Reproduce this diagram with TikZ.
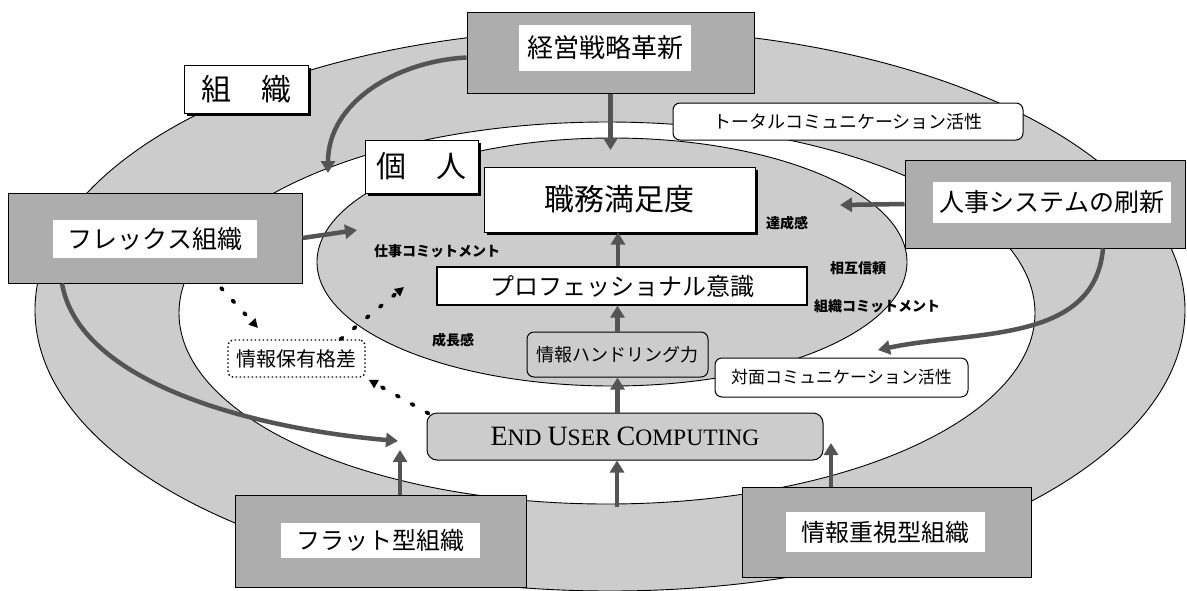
\documentclass[tikz,border=0pt]{standalone}
\usepackage{fontspec}
\newfontfamily\jp{Noto Sans CJK JP}
\newfontfamily\tms{Liberation Serif}
\usetikzlibrary{arrows.meta,shadows}
\newcommand\myfs[1]{\fontsize{#1}{#1}\selectfont}
\definecolor{ringgray}{gray}{0.80}
\definecolor{boxgray}{gray}{0.68}
\definecolor{arrgray}{gray}{0.33}
\tikzset{
  ring/.style={draw=black, line width=0.9pt},
  shadebox/.style={draw=black, line width=1pt, fill=boxgray, inner sep=0pt},
  whitelabel/.style={fill=white, inner sep=0pt},
  plainbox/.style={draw=black, line width=1pt, fill=white, inner sep=0pt},
  shadowbox/.style={plainbox, general shadow={fill=black, shadow xshift=3pt, shadow yshift=-3pt}},
  roundbox/.style={draw=black, line width=1pt, rounded corners=7pt, inner sep=0pt},
  smalllabel/.style={font=\jp\bfseries\myfs{14}, inner sep=0pt},
  bigarrow/.style={draw=arrgray, line width=4.5pt, -{Triangle[length=12pt,width=14pt]}},
  dotarrow/.style={draw=black, line width=3.8pt, dash pattern=on 2.5pt off 14.5pt, line cap=round, -{Triangle[length=9pt,width=9pt]}},
}
\begin{document}
\begin{tikzpicture}[x=1pt,y=-1pt]
\useasboundingbox (0,0) rectangle (1187,590);
% ellipses
\draw[ring, fill=ringgray] (610,310) ellipse [x radius=575pt, y radius=281pt];
\draw[ring, fill=white] (607,313) ellipse [x radius=428pt, y radius=191pt];
\draw[ring, fill=ringgray] (612,262) ellipse [x radius=295pt, y radius=124pt];

% boxes
\node[shadebox, minimum width=287pt, minimum height=81pt] (keiei) at (610.5,52.5) {};
\node[whitelabel, minimum width=172pt, minimum height=46pt, font=\jp\myfs{26}] (keieiT) at (605,48) {経営戦略革新};

\node[shadowbox, minimum width=124pt, minimum height=48pt, font=\jp\myfs{30}] (soshiki) at (246,89) {組　織};
\node[shadowbox, minimum width=113pt, minimum height=53pt, font=\jp\myfs{30}] (kojin) at (421.5,166.5) {個　人};
\node[shadowbox, minimum width=271pt, minimum height=65pt, font=\jp\myfs{30}] (shokumu) at (619.5,199.5) {職務満足度};

\node[shadebox, minimum width=294pt, minimum height=90pt] (flex) at (155,238) {};
\node[whitelabel, minimum width=204pt, minimum height=38pt, font=\jp\myfs{25}] (flexT) at (155,239) {フレックス組織};

\node[shadebox, minimum width=280pt, minimum height=88pt] (jinji) at (1045,204) {};
\node[whitelabel, minimum width=238pt, minimum height=41pt, font=\jp\myfs{25}] (jinjiT) at (1052,202.5) {人事システムの刷新};

\node[roundbox, fill=white, minimum width=350pt, minimum height=37pt, font=\jp\myfs{18}] (total) at (848,121.5) {トータルコミュニケーション活性};

\node[plainbox, line width=1.3pt, minimum width=370pt, minimum height=38pt, font=\jp\myfs{24}] (pro) at (622,286) {プロフェッショナル意識};

\node[roundbox, fill=ringgray, minimum width=181pt, minimum height=45pt, font=\jp\myfs{18}] (hand) at (617.5,354.5) {情報ハンドリング力};

\node[roundbox, fill=white, minimum width=253pt, minimum height=39pt, font=\jp\myfs{17}] (taimen) at (841.5,377.5) {対面コミュニケーション活性};

\node[roundbox, rounded corners=10pt, fill=ringgray, minimum width=396pt, minimum height=47pt] (euc) at (625,436.5)
  {\tms\myfs{28}E\myfs{23.5}ND \myfs{28}U\myfs{23.5}SER \myfs{28}C\myfs{23.5}OMPUTING};

\node[roundbox, rounded corners=5pt, line width=1.4pt, dash pattern=on 1.5pt off 2.5pt, fill=white, minimum width=137pt, minimum height=37pt, font=\jp\myfs{20}] (gap) at (296.5,358.5) {情報保有格差};

\node[shadebox, minimum width=291pt, minimum height=92pt] (flat) at (380.5,541) {};
\node[whitelabel, minimum width=199pt, minimum height=35pt, font=\jp\myfs{24}] (flatT) at (380.5,540.5) {フラット型組織};

\node[shadebox, minimum width=289pt, minimum height=90pt] (jouhou) at (886.5,532) {};
\node[whitelabel, minimum width=199pt, minimum height=40pt, font=\jp\myfs{24}] (jouhouT) at (885.5,532) {情報重視型組織};

% small labels
\node[smalllabel] (l1) at (437,251) {仕事コミットメント};
\node[smalllabel] (l2) at (787,223) {達成感};
\node[smalllabel] (l3) at (858,268) {相互信頼};
\node[smalllabel] (l4) at (877,306) {組織コミットメント};
\node[smalllabel] (l5) at (453,340) {成長感};

% straight block arrows
\coordinate (kEnd) at (610.5,150);
\draw[bigarrow] (keiei.south) -- (kEnd);
\draw[bigarrow] ([xshift=-4pt]pro.north) -- ([xshift=-4pt]pro.north |- shokumu.south);
\draw[bigarrow] (hand.north) -- (hand.north |- pro.south);
\draw[bigarrow] (hand.south |- euc.north) -- (hand.south);
\coordinate (bot) at (617,507);
\draw[bigarrow] (bot) -- (bot |- euc.south);
\coordinate (flatUp) at (400,450);
\draw[bigarrow] (flatUp |- flat.north) -- (flatUp);
\coordinate (jouUp) at (831,443);
\draw[bigarrow] (jouUp |- jouhou.north) -- (jouUp);
\coordinate (flexR) at (357,230);
\draw[bigarrow] (flex.east) -- (flexR);
\coordinate (jinjiL) at (840,205);
\draw[bigarrow] (jinji.west) -- (jinjiL);

% curved block arrows
\coordinate (kojinDown) at (328,173);
\draw[bigarrow] ([yshift=-5pt]keiei.west) to[out=183,in=90] (kojinDown);
\coordinate (taimenIn) at (878,350);
\draw[bigarrow] ([xshift=58pt]jinji.south) to[out=-95,in=12] (taimenIn);
\coordinate (eucIn) at (398,441);
\draw[bigarrow] ([xshift=-93pt]flex.south) .. controls +(17,98) and +(-150,-13) .. (eucIn);

% dotted arrows
\coordinate (dA) at (258,328);
\draw[dotarrow, shorten <=6pt] ([xshift=62pt]flex.south) -- (dA);
\coordinate (dB) at (404,287);
\draw[dotarrow] ([xshift=44pt]gap.north) -- (dB);
\draw[dotarrow] ([xshift=2pt,yshift=-1pt]euc.north west) -- ([xshift=3pt,yshift=-2pt]gap.south east);
\end{tikzpicture}
\end{document}
